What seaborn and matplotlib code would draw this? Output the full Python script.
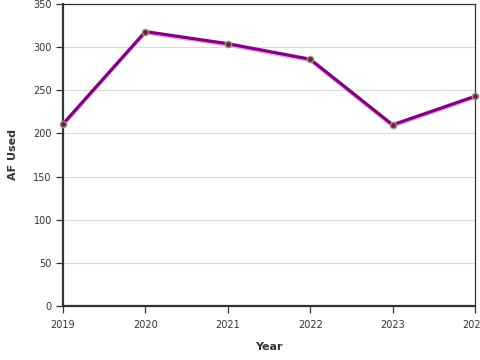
import matplotlib
matplotlib.use("Agg")
import matplotlib.pyplot as plt
import pandas as pd
import seaborn as sns

# data
years = [2019, 2020, 2021, 2022, 2023, 2024]
af_used = [211, 318, 304, 286, 210, 243]

y_ticks = [0, 50, 100, 150, 200, 250, 300, 350]

df = pd.DataFrame({"Year": years, "AF Used": af_used})

sns.set_theme(style="white")
plt.rcParams["font.family"] = ["DejaVu Sans"]

fig = plt.figure(figsize=(4.8, 3.6), dpi=100)
ax = fig.add_axes([63 / 480, 1 - 306 / 360, 412 / 480, 302 / 360])

# faint pink shadow under the line
shadow = ax.transData + matplotlib.transforms.ScaledTranslation(0, -1.2 / 72, fig.dpi_scale_trans)
sns.lineplot(data=df, x="Year", y="AF Used", color="#e8a6e8", linewidth=2.0,
             ax=ax, zorder=2, transform=shadow)
sns.lineplot(data=df, x="Year", y="AF Used", color="#800080", linewidth=2.3,
             marker="o", markersize=4.5, markerfacecolor="#6b1f4a",
             markeredgecolor="#9a9a7a", markeredgewidth=1.0, ax=ax, zorder=3,
             clip_on=False)

ax.set_xlim(2019, 2024)
ax.set_ylim(0, 350)
ax.set_yticks(y_ticks)
ax.set_xticks(years)
ax.set_xticklabels([str(y) for y in years])
ax.yaxis.grid(True, color="#d9d9d9", linewidth=0.8)
ax.set_axisbelow(True)

for side in ["left", "bottom"]:
    ax.spines[side].set_linewidth(1.6)
    ax.spines[side].set_color("#333333")
for side in ["top", "right"]:
    ax.spines[side].set_linewidth(0.9)
    ax.spines[side].set_color("#333333")

ax.tick_params(axis="both", which="major", direction="out", length=5, width=0.9,
               color="#333333", labelsize=7, labelcolor="#333333", pad=3,
               left=True, bottom=True)
ax.tick_params(axis="x", pad=5)

ax.set_xlabel("Year", fontsize=8, fontweight="bold", color="#333333", labelpad=9)
ax.set_ylabel("AF Used", fontsize=8, fontweight="bold", color="#333333", labelpad=11)

fig.savefig("out.png", dpi=100)
